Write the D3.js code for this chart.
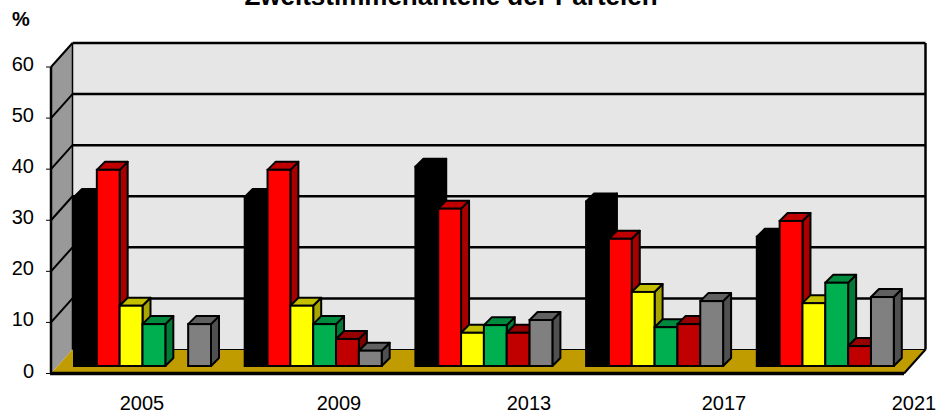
<!DOCTYPE html>
<html><head><meta charset="utf-8">
<script src="https://cdn.jsdelivr.net/npm/d3@7/dist/d3.min.js"></script>
<style>html,body{margin:0;padding:0;background:#fff}svg{display:block}text{font-family:"Liberation Sans",Arial,sans-serif;fill:#000}</style>
</head><body><svg id="c" width="940" height="417"></svg>
<script>
const years = ["2005","2009","2013","2017","2021"];
const parties = ["Schwarz","Rot","Gelb","Gruen","Linke","Sonstige"];
const yTicks = [0,10,20,30,40,50,60];
const schwarz = [33.1,33.1,39.0,32.2,25.3];
const rot = [38.4,38.4,30.8,24.9,28.4];
const gelb = [11.8,11.8,6.5,14.5,12.3];
const gruen = [8.2,8.2,8.0,7.6,16.3];
const linke = [0,5.3,6.5,8.2,3.9];
const sonstige = [8.2,3.0,9.0,12.7,13.5];
const seriesValues = [schwarz,rot,gelb,gruen,linke,sonstige];
const fronts = ["#000000","#ff0000","#ffff00","#00b050","#c00000","#808080"];
const tops = ["#000000","#c00000","#c4c000","#008a3e","#960000","#606060"];
const sides = ["#000000","#a80000","#a8a400","#007a36","#800000","#505050"];

const svg = d3.select("#c");
const y = d3.scaleLinear().domain([0,60]).range([373.5,67]);
const yBar = d3.scaleLinear().domain([0,60]).range([366,59.5]);
const x0 = d3.scaleBand().domain(years).range([74,74+170.7*5]).paddingInner(0).paddingOuter(0);
const x1 = d3.scaleBand().domain(parties).range([0,137]);
const xLabel = d3.scaleOrdinal().domain(years).range([142,339,529,724,914]);
const dep = {x:21.5,y:-24}, barDep = {x:8,y:-8};
const xL = 51, xR = 904;
const poly = (pts,fill,stroke,sw)=>svg.append("polygon").attr("points",pts.map(p=>p.join(",")).join(" "))
  .attr("fill",fill).attr("stroke",stroke||"none").attr("stroke-width",sw||0).attr("stroke-linejoin","round");
const line = (a,b,w)=>svg.append("line").attr("x1",a[0]).attr("y1",a[1]).attr("x2",b[0]).attr("y2",b[1]).attr("stroke","#000").attr("stroke-width",w);

// back wall
poly([[xL+dep.x,y(60)+dep.y],[xR+dep.x,y(60)+dep.y],[xR+dep.x,y(0)+dep.y],[xL+dep.x,y(0)+dep.y]],"#e6e6e6");
// left wall
poly([[xL,y(60)],[xL+dep.x,y(60)+dep.y],[xL+dep.x,y(0)+dep.y],[xL,y(0)]],"#999999");
// floor
poly([[xL,y(0)],[xL+dep.x,y(0)+dep.y],[xR+dep.x,y(0)+dep.y],[xR,y(0)]],"#c09c00");
// gridlines
yTicks.filter(t=>t>0).forEach(t=>{
  line([xL+dep.x,y(t)+dep.y],[xR+dep.x,y(t)+dep.y],2.5);
  line([xL,y(t)],[xL+dep.x,y(t)+dep.y],2);
});
line([xL+dep.x,y(60)+dep.y],[xL+dep.x,y(0)+dep.y],1.5);
line([xR+dep.x,y(60)+dep.y],[xR+dep.x,y(0)+dep.y],2.5);
line([xL+dep.x,y(0)+dep.y],[xR+dep.x,y(0)+dep.y],1);
line([xR,y(0)],[xR+dep.x,y(0)+dep.y],2);
line([xL,y(60)],[xL,y(0)],2.5);
line([xL-1,y(0)],[xR,y(0)],3.5);
// ticks
yTicks.forEach(t=>{
  line([xL-5,y(t)],[xL,y(t)],1);
  svg.append("text").attr("x",34).attr("y",y(t)+4).attr("text-anchor","end").attr("font-size",20).text(t);
});
// bars
years.forEach((yr,i)=>{
  parties.forEach((p,k)=>{
    const v = seriesValues[k][i];
    if(!v) return;
    const bx = x0(yr)+x1(p), w = x1.bandwidth(), t = yBar(v), b = yBar(0);
    poly([[bx+w,b],[bx+w+barDep.x,b+barDep.y],[bx+w+barDep.x,t+barDep.y],[bx+w,t]],sides[k],"#000",2);
    poly([[bx,t],[bx+barDep.x,t+barDep.y],[bx+w+barDep.x,t+barDep.y],[bx+w,t]],tops[k],"#000",2);
    svg.append("rect").attr("x",bx).attr("y",t).attr("width",w).attr("height",b-t)
      .attr("fill",fronts[k]).attr("stroke","#000").attr("stroke-width",2);
  });
});
// labels
years.forEach(yr=>svg.append("text").attr("x",xLabel(yr)).attr("y",410).attr("text-anchor","middle").attr("font-size",20).text(yr));
svg.append("text").attr("x",21).attr("y",26).attr("text-anchor","middle").attr("font-size",20).attr("font-weight","bold").text("%");
svg.append("text").attr("x",451).attr("y",5).attr("text-anchor","middle").attr("font-size",26).attr("font-weight","bold").text("Zweitstimmenanteile der Parteien");
</script></body></html>
